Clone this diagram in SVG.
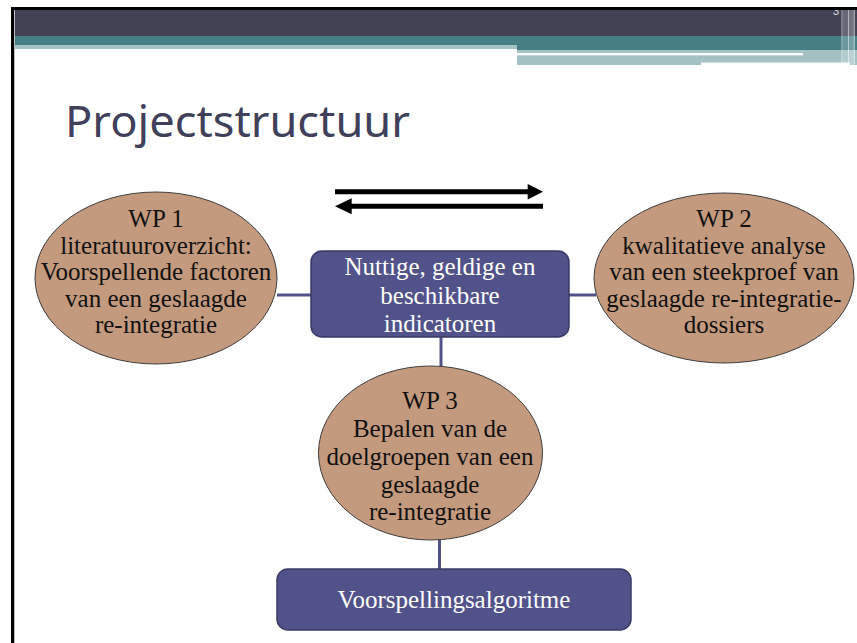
<svg xmlns="http://www.w3.org/2000/svg" width="857" height="643" viewBox="0 0 857 643">
<style>
.wp{fill:#c49a7e;stroke:#3c3c3c;stroke-width:1}
.box{fill:#52528a;stroke:#3a3a66;stroke-width:1.5}
.t{font-family:"Liberation Serif","Times New Roman",serif;font-size:25px;text-anchor:middle;fill:#111}
.w{fill:#ffffff}
.con line{stroke:#52528a;stroke-width:3}
</style>
<rect x="0" y="0" width="857" height="643" fill="#ffffff"/>
<!-- header -->
<g id="header">
<rect x="14" y="10" width="843" height="26" fill="#424255"/>
<rect x="14" y="36" width="503" height="9" fill="#457f84"/>
<rect x="517" y="36" width="340" height="14" fill="#457f84"/>
<rect x="14" y="45" width="503" height="4" fill="#a3c0c3"/>
<rect x="517" y="50" width="340" height="15" fill="#a3c0c3"/>
<rect x="517" y="53" width="286" height="2.3" fill="#ffffff"/>
<rect x="701" y="62.5" width="149" height="2.5" fill="#ffffff"/>
<rect x="841.5" y="10" width="1" height="55" fill="#ffffff" opacity="0.6"/>
<rect x="843" y="10" width="5" height="55" fill="#ffffff" opacity="0.2"/>
<rect x="848" y="10" width="1.2" height="55" fill="#ffffff" opacity="0.6"/>
<rect x="849.5" y="10" width="4" height="55" fill="#ffffff" opacity="0.25"/>
<rect x="853.5" y="10" width="1.5" height="55" fill="#ffffff" opacity="0.5"/>
<text x="833" y="15" style="font-family:'Liberation Sans',Arial,sans-serif;font-size:11px;fill:#dddddd">3</text>
<rect x="11" y="7" width="846" height="3" fill="#000000"/>
<rect x="11" y="7" width="3" height="636" fill="#000000"/>
<rect x="14" y="10" width="1" height="633" fill="#bfbfbf"/>
</g>
<text x="65" y="137" textLength="345" lengthAdjust="spacingAndGlyphs" style="font-family:'Noto Sans','Open Sans',sans-serif;font-size:44px;fill:#40405a">Projectstructuur</text>
<!-- arrows -->
<g id="arrows">
<line x1="335" y1="191.8" x2="529" y2="191.8" stroke="#000" stroke-width="5"/>
<polygon points="527.7,184 543,191.8 527.7,199.5" fill="#000"/>
<line x1="350" y1="206.2" x2="543" y2="206.2" stroke="#000" stroke-width="5"/>
<polygon points="351.7,198.3 335,206.2 351.7,214.3" fill="#000"/>
</g>
<!-- connectors -->
<g id="connectors" class="con">
<line x1="277" y1="295" x2="311" y2="295"/>
<line x1="569" y1="295" x2="596" y2="295"/>
<line x1="441" y1="337" x2="441" y2="367"/>
<line x1="439.5" y1="539" x2="439.5" y2="570"/>
</g>
<g id="wp1">
<ellipse class="wp" cx="156" cy="278" rx="121" ry="86"/>
<text class="t" x="156" y="227">WP 1</text>
<text class="t" x="156" y="254">literatuuroverzicht:</text>
<text class="t" x="156" y="280">Voorspellende factoren</text>
<text class="t" x="156" y="307">van een geslaagde</text>
<text class="t" x="156" y="333">re-integratie</text>
</g>
<g id="wp2">
<ellipse class="wp" cx="724" cy="278" rx="130" ry="85"/>
<text class="t" x="724" y="227">WP 2</text>
<text class="t" x="724" y="254">kwalitatieve analyse</text>
<text class="t" x="724" y="280">van een steekproef van</text>
<text class="t" x="724" y="307">geslaagde re-integratie-</text>
<text class="t" x="724" y="333">dossiers</text>
</g>
<g id="center">
<rect class="box" x="311" y="251" width="258" height="86" rx="11"/>
<text class="t w" x="440" y="275">Nuttige, geldige en</text>
<text class="t w" x="440" y="304">beschikbare</text>
<text class="t w" x="440" y="332">indicatoren</text>
</g>
<g id="wp3">
<ellipse class="wp" cx="430.5" cy="453" rx="112" ry="87"/>
<text class="t" x="430" y="409">WP 3</text>
<text class="t" x="430" y="437">Bepalen van de</text>
<text class="t" x="430" y="465">doelgroepen van een</text>
<text class="t" x="430" y="493">geslaagde</text>
<text class="t" x="430" y="520">re-integratie</text>
</g>
<g id="algo">
<rect class="box" x="277" y="569" width="354" height="61" rx="11"/>
<text class="t w" x="454" y="608">Voorspellingsalgoritme</text>
</g>
</svg>
